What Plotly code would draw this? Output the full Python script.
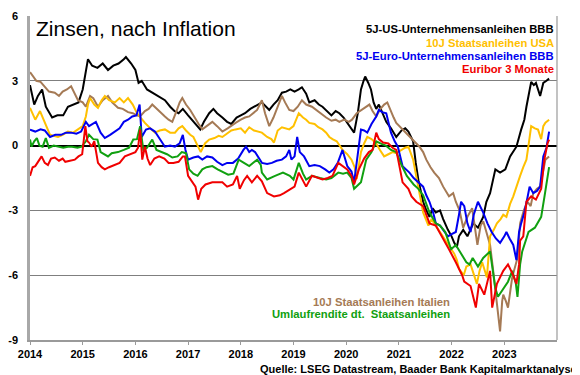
import plotly.graph_objects as go

# ---------------- data (decimal years, real yields in %) ----------------
us_bbb_t = [2014.00,2014.08,2014.15,2014.23,2014.30,2014.42,2014.52,2014.63,2014.72,2014.82,2014.92,2015.00,2015.05,2015.10,2015.18,2015.28,2015.38,2015.48,2015.58,2015.68,2015.78,2015.82,2015.92,2016.00,2016.06,2016.12,2016.22,2016.32,2016.42,2016.50,2016.56,2016.66,2016.74,2016.82,2016.90,2017.00,2017.10,2017.18,2017.23,2017.30,2017.40,2017.48,2017.55,2017.65,2017.74,2017.82,2017.92,2018.00,2018.08,2018.18,2018.31,2018.40,2018.48,2018.54,2018.62,2018.70,2018.78,2018.86,2018.94,2019.02,2019.10,2019.16,2019.24,2019.30,2019.40,2019.48,2019.55,2019.63,2019.72,2019.80,2019.87,2019.95,2020.02,2020.10,2020.15,2020.22,2020.28,2020.33,2020.36,2020.42,2020.47,2020.52,2020.57,2020.62,2020.70,2020.76,2020.85,2020.95,2021.05,2021.12,2021.18,2021.27,2021.32,2021.37,2021.46,2021.52,2021.58,2021.64,2021.70,2021.78,2021.84,2021.93,2022.00,2022.05,2022.10,2022.14,2022.22,2022.30,2022.41,2022.50,2022.60,2022.66,2022.73,2022.78,2022.83,2022.92,2023.02,2023.11,2023.17,2023.23,2023.32,2023.38,2023.42,2023.47,2023.51,2023.56,2023.60,2023.68,2023.74,2023.80,2023.85]
us_bbb_v = [2.8,1.9,2.3,2.6,1.8,1.3,1.4,1.4,1.8,1.9,2.0,2.6,3.4,4.0,3.7,3.6,3.8,3.5,3.7,3.8,4.0,4.1,3.8,3.5,2.9,3.0,2.6,2.45,2.3,2.2,2.1,1.8,1.6,1.5,1.7,1.4,1.1,0.9,0.75,1.1,1.5,1.7,1.5,1.3,1.1,1.0,1.3,1.4,1.5,1.7,1.9,2.0,1.8,1.65,1.9,2.1,2.45,2.5,2.6,2.5,2.6,2.7,2.4,2.0,2.1,1.9,1.8,1.6,1.4,1.6,1.5,1.3,1.05,0.8,0.6,1.5,2.6,3.0,3.2,2.9,2.6,2.0,1.7,1.9,1.4,1.1,0.8,0.4,0.7,0.8,0.65,0.2,-0.8,-1.6,-2.6,-3.0,-3.3,-2.9,-3.1,-3.0,-3.4,-3.9,-4.2,-4.5,-4.7,-4.2,-3.9,-4.2,-3.6,-3.8,-3.3,-2.6,-2.2,-1.6,-1.1,-1.25,-1.1,-0.5,-0.3,-0.05,0.74,1.2,1.8,2.4,2.95,2.8,2.9,2.3,2.9,3.0,3.1]

us10_t = [2014.00,2014.05,2014.10,2014.19,2014.28,2014.33,2014.38,2014.45,2014.53,2014.62,2014.72,2014.82,2014.91,2015.00,2015.06,2015.10,2015.14,2015.22,2015.29,2015.36,2015.42,2015.50,2015.61,2015.70,2015.78,2015.86,2015.95,2016.03,2016.10,2016.18,2016.28,2016.37,2016.46,2016.56,2016.66,2016.75,2016.82,2016.89,2016.96,2017.04,2017.10,2017.18,2017.24,2017.32,2017.40,2017.50,2017.58,2017.65,2017.75,2017.82,2017.90,2018.00,2018.08,2018.16,2018.25,2018.32,2018.40,2018.50,2018.58,2018.63,2018.70,2018.78,2018.86,2018.92,2019.00,2019.10,2019.18,2019.24,2019.30,2019.40,2019.47,2019.55,2019.62,2019.68,2019.74,2019.82,2019.93,2020.02,2020.10,2020.16,2020.20,2020.24,2020.28,2020.34,2020.40,2020.48,2020.57,2020.64,2020.72,2020.80,2020.88,2020.95,2021.05,2021.12,2021.18,2021.27,2021.32,2021.37,2021.46,2021.56,2021.62,2021.67,2021.75,2021.84,2021.92,2021.99,2022.05,2022.10,2022.14,2022.23,2022.28,2022.36,2022.42,2022.48,2022.53,2022.58,2022.67,2022.73,2022.80,2022.86,2022.93,2022.98,2023.04,2023.11,2023.17,2023.24,2023.30,2023.36,2023.42,2023.47,2023.51,2023.58,2023.64,2023.70,2023.74,2023.78,2023.85]
us10_v = [1.75,1.5,1.2,1.6,1.1,0.8,0.5,0.45,0.4,0.5,0.65,0.6,0.75,0.9,1.35,1.9,2.2,1.9,1.75,2.1,2.3,2.1,2.0,2.2,2.0,2.2,1.9,1.5,1.3,1.05,0.8,0.6,0.7,0.75,0.6,0.6,0.8,0.9,0.7,0.5,0.4,0.0,-0.3,0.1,0.28,0.35,0.45,0.4,0.6,0.7,0.75,0.8,0.6,0.85,0.7,0.65,0.6,0.4,0.3,0.14,0.7,0.85,0.8,0.75,0.9,1.5,1.3,1.2,1.05,1.0,0.85,0.75,0.6,0.4,0.3,0.2,-0.2,-0.4,-0.65,-1.0,-1.55,-0.9,-0.3,0.1,0.4,0.3,0.1,-0.2,-0.5,-0.4,-0.3,-0.35,-0.2,-0.1,-0.05,-0.65,-1.3,-2.0,-3.1,-3.7,-3.4,-3.6,-3.9,-4.2,-4.5,-4.8,-5.0,-5.3,-5.7,-6.0,-5.6,-5.5,-5.9,-6.4,-5.8,-5.4,-6.1,-4.2,-3.9,-3.6,-3.4,-3.2,-3.3,-2.7,-2.35,-1.8,-1.4,-1.0,-0.65,0.2,0.9,0.8,0.74,0.3,0.9,1.06,1.2]

eu_bbb_t = [2014.00,2014.10,2014.20,2014.28,2014.38,2014.48,2014.59,2014.68,2014.78,2014.88,2014.97,2015.06,2015.12,2015.20,2015.25,2015.34,2015.42,2015.52,2015.61,2015.70,2015.78,2015.86,2015.94,2016.02,2016.08,2016.12,2016.20,2016.28,2016.37,2016.46,2016.56,2016.66,2016.75,2016.84,2016.90,2016.95,2017.00,2017.10,2017.19,2017.27,2017.36,2017.46,2017.55,2017.65,2017.74,2017.85,2017.95,2018.05,2018.10,2018.16,2018.21,2018.27,2018.34,2018.40,2018.50,2018.59,2018.68,2018.78,2018.86,2018.92,2018.96,2019.02,2019.07,2019.12,2019.20,2019.30,2019.40,2019.50,2019.60,2019.68,2019.76,2019.84,2019.93,2020.02,2020.10,2020.15,2020.22,2020.28,2020.34,2020.40,2020.48,2020.57,2020.62,2020.68,2020.76,2020.85,2020.92,2020.98,2021.07,2021.20,2021.28,2021.37,2021.46,2021.52,2021.58,2021.65,2021.70,2021.78,2021.84,2021.93,2022.00,2022.08,2022.14,2022.18,2022.24,2022.30,2022.36,2022.42,2022.50,2022.60,2022.68,2022.76,2022.84,2022.92,2023.00,2023.04,2023.10,2023.17,2023.23,2023.28,2023.32,2023.38,2023.44,2023.48,2023.55,2023.62,2023.68,2023.74,2023.80,2023.85]
eu_bbb_v = [0.74,0.65,0.75,0.7,0.4,0.5,0.5,0.6,0.6,0.55,0.65,1.1,0.9,1.0,1.1,0.6,0.35,0.5,0.65,0.8,1.1,1.2,1.35,1.4,1.9,0.4,0.74,0.8,0.65,0.3,-0.05,0.0,-0.05,0.1,0.5,-0.2,-0.65,-0.55,-0.5,-0.65,-0.5,-0.55,-0.75,-0.9,-0.8,-0.8,-0.6,-0.2,-0.05,-0.3,-0.2,-0.3,-0.6,-0.8,-0.85,-0.8,-0.7,-0.65,-0.5,-0.2,-0.65,-0.5,0.4,-0.3,-0.5,-0.95,-0.9,-0.95,-1.1,-1.25,-1.1,-0.8,-0.2,-0.95,-1.2,-1.7,-0.4,0.74,0.7,0.6,1.0,1.35,1.66,1.55,1.5,0.6,0.2,-0.05,-0.95,-1.25,-1.5,-1.7,-1.9,-2.3,-2.6,-3.1,-3.6,-3.7,-3.9,-4.2,-4.1,-4.0,-3.2,-2.6,-2.8,-3.6,-4.0,-3.2,-2.6,-3.1,-3.6,-4.0,-4.3,-4.5,-4.2,-4.0,-4.3,-4.6,-5.3,-4.0,-3.6,-3.1,-2.4,-1.9,-2.2,-2.1,-1.9,-0.5,-0.1,0.65]

euribor_t = [2014.00,2014.05,2014.10,2014.17,2014.22,2014.28,2014.34,2014.40,2014.47,2014.55,2014.62,2014.67,2014.75,2014.85,2014.92,2014.99,2015.05,2015.09,2015.12,2015.17,2015.22,2015.29,2015.36,2015.42,2015.50,2015.61,2015.70,2015.80,2015.90,2016.00,2016.05,2016.09,2016.13,2016.18,2016.23,2016.28,2016.36,2016.45,2016.55,2016.63,2016.72,2016.82,2016.90,2016.94,2017.00,2017.08,2017.14,2017.19,2017.25,2017.33,2017.46,2017.55,2017.65,2017.74,2017.85,2017.93,2017.98,2018.06,2018.12,2018.21,2018.31,2018.40,2018.50,2018.63,2018.74,2018.82,2018.94,2019.02,2019.10,2019.17,2019.24,2019.35,2019.45,2019.55,2019.65,2019.74,2019.85,2019.95,2020.02,2020.10,2020.15,2020.24,2020.34,2020.43,2020.50,2020.57,2020.62,2020.70,2020.80,2020.88,2020.95,2021.07,2021.18,2021.24,2021.33,2021.46,2021.58,2021.70,2021.84,2021.95,2022.08,2022.20,2022.24,2022.36,2022.46,2022.52,2022.62,2022.73,2022.77,2022.86,2022.98,2023.07,2023.17,2023.23,2023.28,2023.30,2023.36,2023.42,2023.51,2023.60,2023.70,2023.76,2023.82,2023.85]
euribor_v = [-1.4,-1.0,-0.95,-0.7,-0.5,-0.8,-0.9,-0.6,-0.55,-0.7,-0.6,-0.75,-0.7,-0.65,-0.5,-0.4,0.9,0.2,0.14,-0.05,0.2,-0.8,-1.0,-1.1,-1.0,-0.9,-0.8,-0.5,-0.4,-0.3,-0.1,0.74,-0.65,-0.05,-0.6,-0.9,-0.6,-0.5,-0.6,-0.8,-0.8,-0.75,-0.5,-0.5,-1.4,-1.7,-1.9,-2.5,-2.0,-1.8,-1.7,-1.7,-1.7,-1.9,-1.8,-1.4,-2.0,-1.6,-1.4,-1.7,-1.4,-1.65,-2.2,-2.35,-2.3,-2.2,-2.0,-1.9,-1.25,-1.6,-1.9,-1.4,-1.5,-1.57,-1.5,-1.4,-0.8,-1.0,-1.1,-1.4,-1.8,-1.1,-0.6,-0.3,-0.2,0.6,0.3,0.14,0.1,-0.1,-0.2,-1.7,-2.0,-2.35,-2.6,-2.8,-3.6,-3.7,-4.3,-4.8,-5.4,-6.0,-6.3,-6.5,-7.5,-6.4,-6.9,-5.8,-7.5,-6.4,-5.8,-5.5,-6.0,-6.4,-5.5,-4.4,-4.2,-2.6,-2.35,-2.5,-2.0,-0.65,0.1,0.28]

italy_t = [2014.00,2014.06,2014.12,2014.20,2014.28,2014.36,2014.47,2014.55,2014.62,2014.70,2014.78,2014.85,2014.91,2015.00,2015.06,2015.14,2015.20,2015.29,2015.38,2015.48,2015.56,2015.67,2015.76,2015.86,2015.95,2016.03,2016.09,2016.18,2016.25,2016.32,2016.40,2016.48,2016.56,2016.63,2016.70,2016.78,2016.84,2016.89,2016.96,2017.04,2017.12,2017.20,2017.27,2017.35,2017.46,2017.55,2017.65,2017.75,2017.83,2017.90,2018.00,2018.08,2018.16,2018.24,2018.31,2018.36,2018.40,2018.46,2018.54,2018.62,2018.70,2018.78,2018.84,2018.92,2019.00,2019.08,2019.16,2019.24,2019.35,2019.45,2019.55,2019.62,2019.72,2019.80,2019.87,2019.96,2020.05,2020.11,2020.20,2020.30,2020.38,2020.44,2020.50,2020.57,2020.65,2020.72,2020.78,2020.84,2020.90,2020.95,2021.05,2021.12,2021.20,2021.28,2021.39,2021.46,2021.52,2021.60,2021.67,2021.76,2021.84,2021.95,2022.03,2022.08,2022.15,2022.22,2022.30,2022.39,2022.45,2022.49,2022.55,2022.60,2022.66,2022.73,2022.78,2022.83,2022.88,2022.92,2022.96,2022.98,2023.03,2023.07,2023.15,2023.20,2023.25,2023.30,2023.37,2023.44,2023.50,2023.55,2023.62,2023.68,2023.74,2023.78,2023.85]
italy_v = [3.4,3.2,3.0,2.95,2.7,2.5,2.45,2.3,2.5,2.6,2.75,2.4,2.1,2.0,1.8,2.3,2.2,1.8,2.1,2.3,2.0,1.75,1.7,1.55,1.5,1.4,1.35,1.6,1.7,1.9,1.7,1.5,1.35,1.2,1.1,1.6,2.0,2.2,1.9,1.65,1.3,1.0,0.75,0.9,1.1,0.9,0.65,0.8,0.95,1.05,1.2,1.3,1.35,1.5,1.65,1.9,2.1,1.5,0.9,1.3,1.8,2.3,2.0,1.65,1.6,1.8,2.1,1.9,1.8,1.6,1.4,1.3,1.15,1.2,1.1,1.2,1.1,1.2,1.5,1.65,1.8,1.9,1.6,1.35,1.7,1.9,2.0,1.6,1.3,1.05,0.8,0.6,0.4,0.2,-0.05,-0.3,-0.65,-1.0,-1.25,-1.5,-1.9,-2.35,-2.2,-2.6,-3.0,-3.8,-3.3,-2.9,-3.8,-4.6,-3.7,-3.5,-4.0,-4.6,-5.6,-6.7,-7.6,-8.6,-7.2,-6.9,-7.2,-7.5,-6.1,-5.6,-5.2,-3.6,-3.0,-2.6,-2.8,-2.2,-2.0,-1.9,-1.1,-0.65,-0.5]

bund_t = [2014.00,2014.03,2014.08,2014.13,2014.18,2014.24,2014.30,2014.36,2014.45,2014.55,2014.63,2014.72,2014.80,2014.90,2014.98,2015.06,2015.12,2015.20,2015.28,2015.34,2015.42,2015.48,2015.55,2015.67,2015.78,2015.88,2015.96,2016.03,2016.09,2016.15,2016.22,2016.32,2016.40,2016.50,2016.60,2016.70,2016.80,2016.88,2016.96,2017.02,2017.10,2017.18,2017.27,2017.35,2017.46,2017.56,2017.65,2017.76,2017.86,2017.96,2018.06,2018.16,2018.31,2018.38,2018.40,2018.50,2018.65,2018.80,2018.93,2019.00,2019.10,2019.18,2019.24,2019.35,2019.50,2019.62,2019.72,2019.85,2019.94,2020.02,2020.10,2020.15,2020.28,2020.38,2020.48,2020.57,2020.65,2020.75,2020.85,2020.95,2021.05,2021.15,2021.28,2021.37,2021.46,2021.58,2021.70,2021.78,2021.88,2021.99,2022.08,2022.16,2022.28,2022.34,2022.40,2022.50,2022.60,2022.73,2022.78,2022.83,2022.88,2022.98,2023.07,2023.15,2023.22,2023.25,2023.30,2023.34,2023.46,2023.58,2023.70,2023.76,2023.80,2023.85]
bund_v = [0.28,-0.05,0.2,0.35,0.0,-0.05,0.35,-0.1,0.0,-0.05,-0.1,-0.05,-0.05,-0.1,-0.05,0.2,0.5,0.3,0.28,-0.3,-0.4,-0.5,-0.35,-0.3,-0.2,-0.1,0.28,0.3,0.9,-0.2,-0.1,0.28,-0.2,-0.3,-0.4,-0.55,-0.5,-0.3,-0.35,-1.1,-1.3,-1.4,-1.1,-1.0,-0.95,-1.1,-1.2,-1.35,-1.3,-0.65,-0.8,-0.95,-0.65,-0.9,-1.25,-1.57,-1.4,-1.25,-1.4,-1.57,-0.8,-1.3,-1.57,-1.4,-1.5,-1.57,-1.5,-1.25,-1.3,-1.25,-1.5,-2.0,-1.7,-0.65,-0.3,0.2,0.1,0.0,-0.2,-0.3,-0.9,-1.4,-1.8,-2.0,-2.3,-3.1,-3.6,-3.7,-4.0,-4.8,-4.6,-4.9,-5.4,-5.5,-5.2,-5.6,-5.2,-4.9,-5.8,-6.6,-7.0,-6.6,-6.3,-5.8,-6.4,-7.0,-5.5,-4.9,-4.0,-3.8,-3.3,-2.4,-1.8,-1.0]

# labels
title_text = "Zinsen, nach Inflation"
name_us_bbb = "5J-US-Unternehmensanleihen BBB"
name_us10 = "10J Staatsanleihen USA"
name_eu_bbb = "5J-Euro-Unternehmensanleihen BBB"
name_euribor = "Euribor 3 Monate"
name_italy = "10J Staatsanleihen Italien"
name_bund = "Umlaufrendite dt.  Staatsanleihen"
source_text = "Quelle: LSEG Datastream, Baader Bank Kapitalmarktanalyse"
x_ticks = [2014, 2015, 2016, 2017, 2018, 2019, 2020, 2021, 2022, 2023]
y_ticks = [6, 3, 0, -3, -6, -9]
y_ticklabels = ["6", "3", "0", "-3", "-6", "-9"]

C_BLACK = "#000000"
C_YELLOW = "#FFC000"
C_BLUE = "#0000F0"
C_RED = "#F00000"
C_BROWN = "#A57A55"
C_GREEN = "#10A010"

FONT = "Liberation Sans, Arial, sans-serif"

fig = go.Figure()
# drawing order: back to front
series = [
    (us_bbb_t, us_bbb_v, C_BLACK, name_us_bbb),
    (italy_t, italy_v, C_BROWN, name_italy),
    (us10_t, us10_v, C_YELLOW, name_us10),
    (eu_bbb_t, eu_bbb_v, C_BLUE, name_eu_bbb),
    (bund_t, bund_v, C_GREEN, name_bund),
    (euribor_t, euribor_v, C_RED, name_euribor),
]
for t, v, c, n in series:
    fig.add_trace(go.Scatter(x=t, y=v, mode="lines", name=n,
                             line=dict(color=c, width=2), showlegend=False))

# the page body has an 8px margin, so the figure is 8px smaller than the window
fig.update_layout(
    width=572, height=367,
    margin=dict(l=22, r=23, t=8, b=35, autoexpand=False),
    paper_bgcolor="white", plot_bgcolor="white",
    font=dict(family=FONT, size=11, color="black"),
    xaxis=dict(range=[2014, 2024], tickvals=x_ticks, ticktext=[str(x) for x in x_ticks],
               automargin=False,
               showgrid=False, zeroline=False, showline=True, linecolor="#9a9a9a",
               linewidth=1.5, ticks="outside", ticklen=3, tickcolor="#9a9a9a",
               tickfont=dict(family=FONT, size=11, color="black", weight="bold")),
    yaxis=dict(range=[-9, 6], tickvals=y_ticks, ticktext=y_ticklabels,
               automargin=False,
               showgrid=True, gridcolor="#7f7f7f", gridwidth=1,
               zeroline=True, zerolinecolor="black", zerolinewidth=1.6,
               showline=True, linecolor="#a8a8a8", linewidth=2.5, ticks="",
               ticklabelstandoff=7,
               tickfont=dict(family=FONT, size=11, color="black", weight="bold")),
)

# right frame line
fig.add_shape(type="line", xref="paper", yref="paper", x0=1, x1=1, y0=0, y1=1,
              line=dict(color="#9a9a9a", width=1.2))

# title
fig.add_annotation(text=title_text, xref="paper", yref="paper", x=0.008, y=0.960,
                   xanchor="left", yanchor="middle", showarrow=False,
                   font=dict(family=FONT, size=21, color="black"))

legend_top = [(name_us_bbb, C_BLACK, 0.960), (name_us10, C_YELLOW, 0.918),
              (name_eu_bbb, C_BLUE, 0.877), (name_euribor, C_RED, 0.836)]
for txt, col, yy in legend_top:
    fig.add_annotation(text="<b>" + txt + "</b>", xref="paper", yref="paper", x=0.998, y=yy,
                       xanchor="right", yanchor="middle", showarrow=False,
                       font=dict(family=FONT, size=11.25, color=col))

legend_bot = [(name_italy, C_BROWN, 0.117), (name_bund, C_GREEN, 0.080)]
for txt, col, yy in legend_bot:
    fig.add_annotation(text="<b>" + txt + "</b>", xref="paper", yref="paper", x=0.801, y=yy,
                       xanchor="right", yanchor="middle", showarrow=False,
                       font=dict(family=FONT, size=11.25, color=col))

fig.add_annotation(text="<b>" + source_text + "</b>", xref="paper", yref="paper",
                   x=1.041, y=-0.088, xanchor="right", yanchor="middle", showarrow=False,
                   font=dict(family=FONT, size=11, color="black"))

fig.write_html("out.html")
